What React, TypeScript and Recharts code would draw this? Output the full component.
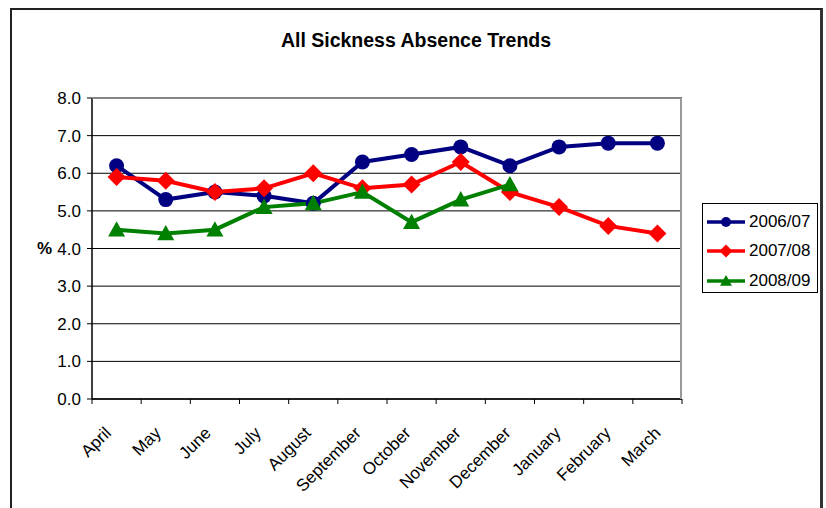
import React from 'react';
import {
  LineChart,
  Line,
  XAxis,
  YAxis,
  CartesianGrid,
  Legend
} from 'recharts';

const months = [
  'April', 'May', 'June', 'July', 'August', 'September',
  'October', 'November', 'December', 'January', 'February', 'March'
];

const y2006 = [6.2, 5.3, 5.5, 5.4, 5.2, 6.3, 6.5, 6.7, 6.2, 6.7, 6.8, 6.8];
const y2007 = [5.9, 5.8, 5.5, 5.6, 6.0, 5.6, 5.7, 6.3, 5.5, 5.1, 4.6, 4.4];
const y2008 = [4.5, 4.4, 4.5, 5.1, 5.2, 5.5, 4.7, 5.3, 5.7, null, null, null];

const yTicks = [0, 1, 2, 3, 4, 5, 6, 7, 8];

const data = months.map((m, i) => ({
  month: m,
  a: y2006[i],
  b: y2007[i],
  c: y2008[i]
}));

const FONT = '"Liberation Sans", Arial, sans-serif';
const PLOT_LEFT = 92;
const PLOT_RIGHT = 682;
const PLOT_TOP = 98;
const PLOT_BOTTOM = 399;
const BAND = (PLOT_RIGHT - PLOT_LEFT) / months.length;

const NAVY = '#000080';
const RED = '#ff0000';
const GREEN = '#008000';

const Marker = ({ shape, cx, cy, color, size }) => {
  if (cx == null || cy == null) return null;
  if (shape === 'circle') return <circle cx={cx} cy={cy} r={size} fill={color} />;
  if (shape === 'diamond') {
    const s = size + 1.5;
    return (
      <polygon
        points={`${cx},${cy - s} ${cx + s},${cy} ${cx},${cy + s} ${cx - s},${cy}`}
        fill={color}
      />
    );
  }
  const s = size + 1;
  return (
    <polygon
      points={`${cx},${cy - s} ${cx + s},${cy + s * 0.8} ${cx - s},${cy + s * 0.8}`}
      fill={color}
    />
  );
};

const makeDot = (shape, color) => (props) => {
  const { cx, cy, index, value } = props;
  if (value == null) return <g key={`d-${index}`} />;
  return (
    <g key={`d-${index}`}>
      <Marker shape={shape} cx={cx} cy={cy} color={color} size={7.5} />
    </g>
  );
};

// rotated month labels, ticks sit on the band edges like Excel does
const XTick = ({ x, y, payload, index }) => {
  const left = x - BAND / 2;
  const lx = x - 4.5 + index * 0.8;
  const ly = y + 35;
  return (
    <g>
      <line x1={left} x2={left} y1={y} y2={y + 5} stroke="#000" />
      {index === months.length - 1 && (
        <line x1={x + BAND / 2} x2={x + BAND / 2} y1={y} y2={y + 5} stroke="#000" />
      )}
      <text
        x={lx}
        y={ly}
        transform={`rotate(-45, ${lx}, ${ly})`}
        textAnchor="end"
        fontFamily={FONT}
        fontSize={17}
        fill="#000"
      >
        {payload.value}
      </text>
    </g>
  );
};

const legendItems = [
  { name: '2006/07', color: NAVY, shape: 'circle' },
  { name: '2007/08', color: RED, shape: 'diamond' },
  { name: '2008/09', color: GREEN, shape: 'triangle' }
];

const LegendBox = () => (
  <div
    style={{
      width: 116,
      height: 90,
      boxSizing: 'border-box',
      border: '1px solid #000',
      background: '#fff',
      paddingTop: 3
    }}
  >
    {legendItems.map((it) => (
      <div key={it.name} style={{ display: 'flex', alignItems: 'center', height: 29.5 }}>
        <svg width={46} height={20} style={{ flex: 'none' }}>
          <line x1={4} x2={42} y1={10} y2={10} stroke={it.color} strokeWidth={3.5} />
          <Marker shape={it.shape} cx={23} cy={10} color={it.color} size={5} />
        </svg>
        <span style={{ fontFamily: FONT, fontSize: 17, color: '#000' }}>{it.name}</span>
      </div>
    ))}
  </div>
);

export default function App() {
  return (
    <div style={{ position: 'absolute', left: 0, top: 0, width: 826, height: 508, overflow: 'hidden', background: '#fff' }}>
      <div
        style={{
          position: 'absolute',
          left: 10,
          top: 8,
          width: 808,
          height: 520,
          borderTop: '2px solid #222',
          borderLeft: '2px solid #222',
          borderRight: '3px solid #333'
        }}
      />
      <div
        style={{
          position: 'absolute',
          left: 0,
          width: 832,
          top: 29,
          textAlign: 'center',
          fontFamily: FONT,
          fontWeight: 'bold',
          fontSize: 19.5,
          color: '#000'
        }}
      >
        All Sickness Absence Trends
      </div>
      <div
        style={{
          position: 'absolute',
          left: 37,
          top: 239,
          fontFamily: FONT,
          fontWeight: 'bold',
          fontSize: 17,
          color: '#000'
        }}
      >
        %
      </div>
      <div style={{ position: 'absolute', left: 0, top: 0 }}>
        <LineChart
          width={826}
          height={508}
          data={data}
          margin={{ top: PLOT_TOP, left: 10, right: 826 - PLOT_RIGHT, bottom: 0 }}
        >
          <CartesianGrid horizontal vertical={false} stroke="#000" strokeWidth={1} />
          <XAxis
            dataKey="month"
            height={508 - PLOT_BOTTOM}
            padding={{ left: BAND / 2, right: BAND / 2 }}
            tickLine={false}
            tickSize={0}
            tickMargin={0}
            interval={0}
            axisLine={{ stroke: '#000', strokeWidth: 1.5 }}
            tick={<XTick />}
          />
          <YAxis
            width={PLOT_LEFT - 10}
            domain={[0, 8]}
            ticks={yTicks}
            interval={0}
            tickFormatter={(v) => v.toFixed(1)}
            tickSize={5}
            tickMargin={6}
            axisLine={{ stroke: '#000', strokeWidth: 1.5 }}
            tickLine={{ stroke: '#000' }}
            tick={{ fontFamily: FONT, fontSize: 17, fill: '#000' }}
          />
          <Legend
            layout="horizontal"
            verticalAlign="middle"
            align="center"
            wrapperStyle={{ position: 'absolute', left: 702, top: 203, width: 116, height: 90 }}
            content={<LegendBox />}
          />
          <Line
            dataKey="a"
            name="2006/07"
            stroke={NAVY}
            strokeWidth={4}
            dot={makeDot('circle', NAVY)}
            activeDot={false}
            isAnimationActive={false}
          />
          <Line
            dataKey="b"
            name="2007/08"
            stroke={RED}
            strokeWidth={4}
            dot={makeDot('diamond', RED)}
            activeDot={false}
            isAnimationActive={false}
          />
          <Line
            dataKey="c"
            name="2008/09"
            stroke={GREEN}
            strokeWidth={4}
            dot={makeDot('triangle', GREEN)}
            activeDot={false}
            isAnimationActive={false}
          />
        </LineChart>
      </div>
      <div
        style={{
          position: 'absolute',
          left: PLOT_LEFT,
          top: PLOT_TOP,
          width: PLOT_RIGHT - PLOT_LEFT,
          height: PLOT_BOTTOM - PLOT_TOP,
          boxSizing: 'border-box',
          borderTop: '1.5px solid #888',
          borderRight: '2px solid #999',
          pointerEvents: 'none'
        }}
      />
    </div>
  );
}
